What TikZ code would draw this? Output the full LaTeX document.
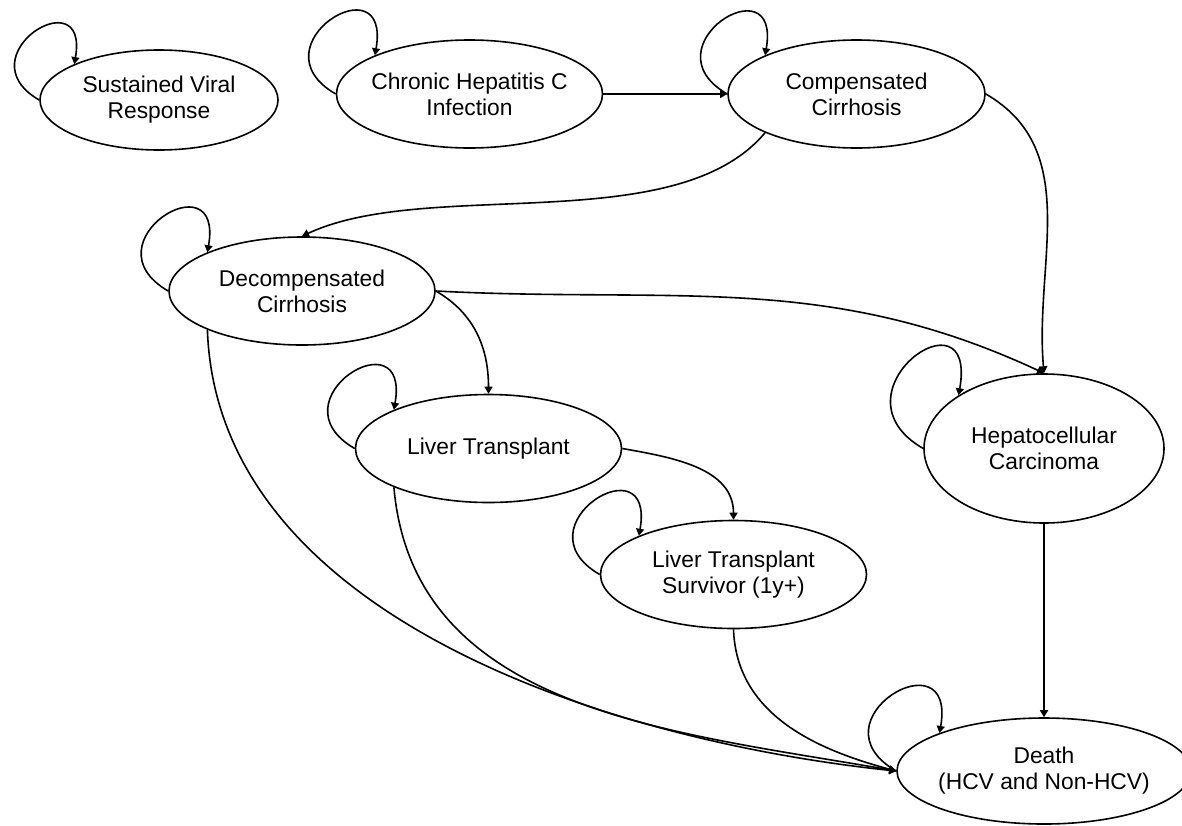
\documentclass[tikz,border=0pt]{standalone}
\usepackage{fontspec}
\setmainfont{Liberation Sans}
\usetikzlibrary{positioning, arrows.meta, shapes.geometric}

\begin{document}
\begin{tikzpicture}[->, >={Triangle[length=3.5pt,width=4pt]}, line width=0.8pt, on grid,
		hstate/.style={ellipse, draw, align=center, minimum width=133pt, minimum height=54pt,
			inner xsep=-3pt, inner ysep=0pt, font=\fontsize{11.4}{13}\selectfont},
		selfloop/.style={out=150, in=80, looseness=4.5}]
		\useasboundingbox (0,0) rectangle (591pt,-412.5pt);
		
		\node[hstate] (chc) at (234.75pt,-47pt) {Chronic Hepatitis C\\Infection};
		\node[hstate, minimum width=119pt, minimum height=50pt, below left = 3pt and 155.25pt of chc] (svr) {Sustained Viral\\Response};
		\node[hstate, minimum width=128.5pt, right = 193.5pt of chc] (cc) {Compensated\\Cirrhosis};
		
		\node[hstate, below left = 98.5pt and 83.75pt of chc] (dc) {Decompensated\\Cirrhosis};
		\node[hstate, below right = 78.75pt and 93.25pt of dc] (lt) {Liver Transplant};
		\node[hstate, below right = 63pt and 122.5pt of lt] (lts) {Liver Transplant\\Survivor (1y+)};
		
		\node[hstate, minimum width=120pt, minimum height=74.5pt, right = 277.75pt of lt] (hcc) {Hepatocellular\\Carcinoma};
		\node[hstate, minimum width=147pt, minimum height=53pt, below = 161.25pt of hcc] (death) {Death\\(HCV and Non-HCV)};
		
		% staying in the same state
		\draw (svr.west) to[selfloop] (svr.north west);
		\draw (chc.west) to[selfloop] (chc.north west);
		\draw (cc.west) to[selfloop] (cc.north west);
		\draw (dc.west) to[selfloop] (dc.north west);
		\draw (lt.west) to[selfloop] (lt.north west);
		\draw (lts.west) to[selfloop] (lts.north west);
		\draw (hcc.west) to[selfloop] (hcc.north west);
		\draw (death.west) to[selfloop] (death.north west);
		
		% transitions
		\draw (chc.east) -- (cc.west);
		\draw (cc.south west) to[out=-130, in=25, looseness=0.75] (dc.north);
		\draw (cc.east) to[out=-30, in=95] (hcc.north);
		\draw (dc.east) to[out=-3, in=155] (hcc.north);
		\draw (dc.east) to[out=-30, in=90] (lt.north);
		\draw (lt.east) to[out=-10, in=90] (lts.north);
		\draw (hcc.south) -- (death.north);
		
		\draw (dc.south west) to[out=-88, in=174, looseness=0.9] (death.west);
		\draw (lt.south west) to[out=-85, in=170] (death.west);
		\draw (lts.south) to[out=-88, in=165] (death.west);
		
	\end{tikzpicture}
\end{document}
